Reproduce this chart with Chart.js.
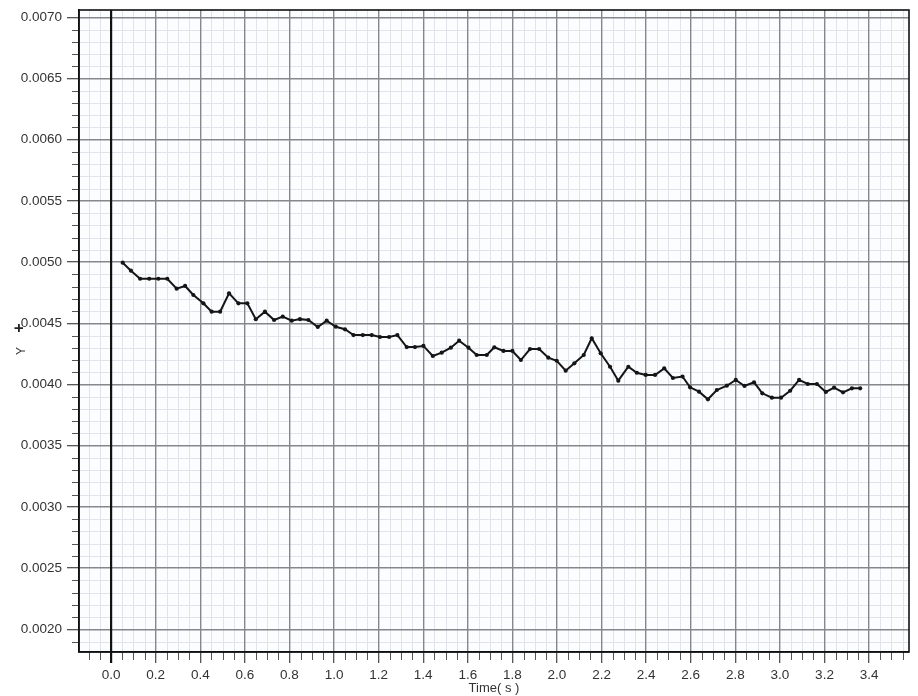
<!DOCTYPE html>
<html><head><meta charset="utf-8">
<script src="https://cdn.jsdelivr.net/npm/chart.js@4/dist/chart.umd.min.js"></script>
<style>html,body{margin:0;padding:0;background:#fff;}#wrap{width:918px;height:696px;position:relative;}</style>
</head><body><div id="wrap"><canvas id="c" width="918" height="696"></canvas></div>
<script>
// ---- data ----
const timeS = [0.052,0.089,0.130,0.171,0.212,0.252,0.294,0.332,0.369,0.414,
  0.451,0.489,0.529,0.571,0.611,0.649,0.690,0.731,0.770,0.810,
  0.847,0.885,0.927,0.967,1.008,1.049,1.087,1.129,1.169,1.206,
  1.247,1.284,1.326,1.363,1.401,1.443,1.483,1.524,1.561,1.603,
  1.640,1.685,1.719,1.760,1.800,1.838,1.879,1.920,1.961,1.999,
  2.039,2.078,2.120,2.156,2.196,2.238,2.275,2.320,2.358,2.398,
  2.440,2.481,2.520,2.563,2.597,2.637,2.677,2.717,2.762,2.802,
  2.841,2.884,2.921,2.964,3.005,3.046,3.086,3.125,3.166,3.206,
  3.243,3.283,3.323,3.360];
const yValues = [0.004995,0.004930,0.004864,0.004864,0.004864,0.004864,0.004783,0.004805,0.004731,0.004663,
  0.004595,0.004595,0.004745,0.004663,0.004663,0.004533,0.004595,0.004527,0.004554,0.004521,
  0.004534,0.004527,0.004470,0.004521,0.004472,0.004451,0.004404,0.004404,0.004404,0.004388,
  0.004388,0.004404,0.004306,0.004306,0.004315,0.004233,0.004260,0.004301,0.004358,0.004301,
  0.004241,0.004241,0.004304,0.004274,0.004274,0.004200,0.004290,0.004290,0.004219,0.004194,
  0.004113,0.004173,0.004241,0.004378,0.004255,0.004145,0.004031,0.004145,0.004096,0.004078,
  0.004078,0.004132,0.004053,0.004065,0.003977,0.003941,0.003879,0.003955,0.003990,0.004037,
  0.003988,0.004018,0.003928,0.003892,0.003892,0.003949,0.004037,0.004004,0.004004,0.003939,
  0.003974,0.003936,0.003969,0.003969];
const xTickLabels = ['0.0','0.2','0.4','0.6','0.8','1.0','1.2','1.4','1.6','1.8','2.0','2.2','2.4','2.6','2.8','3.0','3.2','3.4'];
const yTickLabels = ['0.0020','0.0025','0.0030','0.0035','0.0040','0.0045','0.0050','0.0055','0.0060','0.0065','0.0070'];
const xTitle = 'Time( s )';
const yTitle = 'Y';
const yMarker = '+';

// ---- axis layout ----
const X_MIN = -0.144, X_MAX = 3.579, X_MINOR = 0.05;
const Y_MIN = 0.0018145, Y_MAX = 0.0070596, Y_MINOR = 0.0001;
const xMajor = xTickLabels.map(Number);
const yMajor = yTickLabels.map(Number);
const xAll = [], yAll = [];
for (let k = -2; k <= 71; k++) xAll.push(Math.round(k * X_MINOR * 100) / 100);
for (let k = 19; k <= 70; k++) yAll.push(Math.round(k * Y_MINOR * 10000) / 10000);
const isMajor = (v, arr) => arr.some(m => Math.abs(m - v) < 1e-9);

const FONT = {family: "'Liberation Sans', Arial, sans-serif", size: 13.5};
const MAJOR_GRID = '#85878a', MINOR_GRID = '#dfe4ea';

const framePlugin = {
  id: 'frame',
  beforeDraw(chart) {
    const {ctx, chartArea: a, scales} = chart;
    ctx.save();
    ctx.fillStyle = '#fcfdff';
    ctx.fillRect(a.left, a.top, a.right - a.left, a.bottom - a.top);
    // minor grid underneath the major grid
    ctx.strokeStyle = MINOR_GRID;
    ctx.lineWidth = 1;
    ctx.beginPath();
    xAll.forEach(v => {
      if (isMajor(v, xMajor)) return;
      const px = Math.round(scales.x.getPixelForValue(v)) + 0.5;
      ctx.moveTo(px, a.top); ctx.lineTo(px, a.bottom);
    });
    yAll.forEach(v => {
      if (isMajor(v, yMajor)) return;
      const py = Math.round(scales.y.getPixelForValue(v)) + 0.5;
      ctx.moveTo(a.left, py); ctx.lineTo(a.right, py);
    });
    ctx.stroke();
    ctx.restore();
  },
  beforeDatasetsDraw(chart) {
    const {ctx, chartArea: a, scales} = chart;
    ctx.save();
    const px = scales.x.getPixelForValue(0);
    ctx.strokeStyle = '#111';
    ctx.lineWidth = 2.2;
    ctx.beginPath();
    ctx.moveTo(px, a.top); ctx.lineTo(px, a.bottom + 11);
    ctx.stroke();
    ctx.restore();
  },
  afterDraw(chart) {
    const {ctx, chartArea: a, scales} = chart;
    ctx.save();
    // minor tick marks
    ctx.strokeStyle = '#555';
    ctx.lineWidth = 1;
    ctx.beginPath();
    xAll.forEach(v => {
      if (isMajor(v, xMajor)) return;
      const px = Math.round(scales.x.getPixelForValue(v)) + 0.5;
      ctx.moveTo(px, a.bottom); ctx.lineTo(px, a.bottom + 8);
    });
    yAll.forEach(v => {
      if (isMajor(v, yMajor)) return;
      const py = Math.round(scales.y.getPixelForValue(v)) + 0.5;
      ctx.moveTo(a.left - 7, py); ctx.lineTo(a.left, py);
    });
    ctx.stroke();
    // frame
    ctx.strokeStyle = '#111';
    ctx.lineWidth = 1.6;
    ctx.strokeRect(a.left, a.top, a.right - a.left, a.bottom - a.top);
    // y title with marker
    ctx.fillStyle = '#333';
    ctx.translate(21.5, 351);
    ctx.rotate(-Math.PI / 2);
    ctx.font = "12px 'Liberation Sans', Arial, sans-serif";
    ctx.textAlign = 'center';
    ctx.textBaseline = 'middle';
    ctx.fillText(yTitle, 0, 0);
    ctx.font = "bold 16px 'Liberation Sans', Arial, sans-serif";
    ctx.fillStyle = '#222';
    ctx.fillText(yMarker, 23, -2);
    ctx.restore();
  }
};

new Chart(document.getElementById('c'), {
  type: 'scatter',
  data: {
    datasets: [{
      data: timeS.map((t, i) => ({x: t, y: yValues[i]})),
      showLine: true,
      borderColor: '#151515',
      backgroundColor: '#151515',
      borderWidth: 2,
      pointRadius: 2.1,
      pointHoverRadius: 2.1,
      pointBorderWidth: 0,
      tension: 0
    }]
  },
  options: {
    responsive: false,
    animation: false,
    devicePixelRatio: 1,
    layout: {padding: {left: 0, top: 10, right: 9, bottom: 0}},
    plugins: {legend: {display: false}, tooltip: {enabled: false}},
    scales: {
      x: {
        type: 'linear', min: X_MIN, max: X_MAX,
        afterBuildTicks: s => { s.ticks = xAll.map(v => ({value: v})); },
        afterFit: s => { s.height = 44; s.paddingLeft = 0; s.paddingRight = 0; s.paddingTop = 0; s.paddingBottom = 0; },
        ticks: {
          autoSkip: false, maxRotation: 0, minRotation: 0, padding: 4,
          color: '#333', font: FONT,
          callback: v => { const i = xMajor.findIndex(m => Math.abs(m - v) < 1e-9); return i >= 0 ? xTickLabels[i] : ''; }
        },
        grid: {
          drawTicks: true, tickLength: 11,
          color: c => isMajor(c.tick.value, xMajor) ? MAJOR_GRID : 'rgba(0,0,0,0)',
          lineWidth: c => isMajor(c.tick.value, xMajor) ? 1.4 : 0,
          tickColor: c => isMajor(c.tick.value, xMajor) ? '#444' : 'rgba(0,0,0,0)',
          tickWidth: 1.2
        },
        border: {display: true, color: '#111', width: 1.6},
        title: {display: true, text: xTitle, color: '#333', font: {family: FONT.family, size: 13}, padding: {top: 0, bottom: 0}}
      },
      y: {
        type: 'linear', min: Y_MIN, max: Y_MAX,
        afterBuildTicks: s => { s.ticks = yAll.map(v => ({value: v})); },
        afterFit: s => { s.width = 79; s.paddingLeft = 0; s.paddingRight = 0; s.paddingTop = 0; s.paddingBottom = 0; },
        ticks: {
          autoSkip: false, padding: 5, color: '#333', font: FONT,
          callback: v => { const i = yMajor.findIndex(m => Math.abs(m - v) < 1e-9); return i >= 0 ? yTickLabels[i] : ''; }
        },
        grid: {
          drawTicks: true, tickLength: 12,
          color: c => isMajor(c.tick.value, yMajor) ? MAJOR_GRID : 'rgba(0,0,0,0)',
          lineWidth: c => isMajor(c.tick.value, yMajor) ? 1.4 : 0,
          tickColor: c => isMajor(c.tick.value, yMajor) ? '#444' : 'rgba(0,0,0,0)',
          tickWidth: 1.2
        },
        border: {display: true, color: '#111', width: 1.6},
        title: {display: false}
      }
    }
  },
  plugins: [framePlugin]
});
</script></body></html>
